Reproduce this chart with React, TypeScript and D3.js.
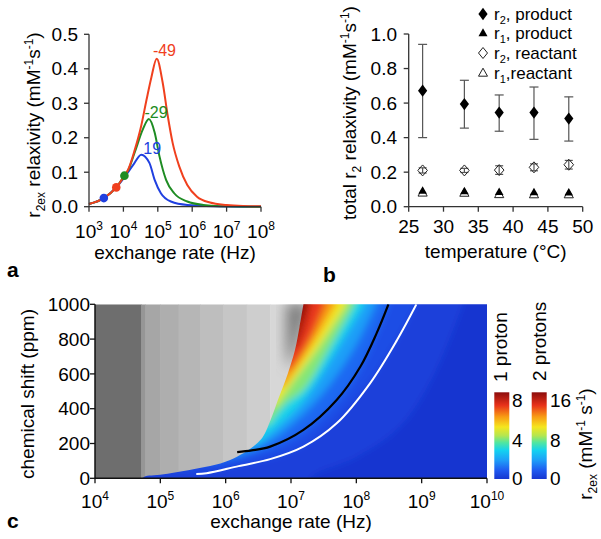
import React from "react";
import * as d3 from "d3";

// ---------------- Panel a: r2ex vs exchange rate ----------------
const redRate = [1000, 2700, 6200, 10700, 13800, 21400, 33000, 47000, 65000, 93000, 138000, 195000, 270000, 420000, 720000, 1380000, 3300000, 1e7, 3e7, 1e8];
const redR2ex = [0.008, 0.025, 0.056, 0.09, 0.108, 0.165, 0.235, 0.31, 0.375, 0.429, 0.361, 0.263, 0.185, 0.117, 0.063, 0.029, 0.012, 0.005, 0.002, 0.001];
const greenRate = [1000, 2700, 6200, 10700, 13800, 21400, 37000, 55000, 81000, 112000, 174000, 300000, 720000, 2100000, 1e7, 1e8];
const greenR2ex = [0.008, 0.025, 0.056, 0.09, 0.106, 0.158, 0.225, 0.254, 0.215, 0.146, 0.078, 0.039, 0.015, 0.005, 0.001, 0.0];
const blueRate = [1000, 2700, 6200, 11200, 19500, 33000, 57000, 81000, 123000, 240000, 720000, 1e7, 1e8];
const blueR2ex = [0.008, 0.025, 0.056, 0.088, 0.122, 0.151, 0.127, 0.078, 0.039, 0.015, 0.005, 0.0005, 0];
const dotRate = [2700, 6200, 10700];
const dotR2ex = [0.025, 0.056, 0.09];
const curveLabels = ["-49", "-29", "19"];
const curveLabelRate = [7.2e4, 4.1e4, 3.8e4];
const curveLabelR2ex = [0.437, 0.256, 0.153];
const ticksAx = [1e3, 1e4, 1e5, 1e6, 1e7, 1e8];
const ticksAy = [0, 0.1, 0.2, 0.3, 0.4, 0.5];

// ---------------- Panel b: total relaxivity vs temperature ----------------
const temps = [27, 33, 38, 43, 48];
const r2Prod = [0.672, 0.594, 0.545, 0.545, 0.51];
const r2ProdLo = [0.4, 0.455, 0.437, 0.39, 0.38];
const r2ProdHi = [0.94, 0.732, 0.647, 0.693, 0.636];
const r2React = [0.21, 0.21, 0.212, 0.228, 0.243];
const r2ReactLo = [0.195, 0.198, 0.187, 0.208, 0.218];
const r2ReactHi = [0.225, 0.222, 0.237, 0.248, 0.268];
const r1Prod = [0.092, 0.09, 0.085, 0.083, 0.082];
const r1React = [0.08, 0.079, 0.071, 0.07, 0.07];
const legendMain = ["r", "r", "r", "r"];
const legendSub = ["2", "1", "2", "1"];
const legendRest = [", product", ", product", ", reactant", ",reactant"];
const ticksBx = [25, 30, 35, 40, 45, 50];
const ticksBy = [0, 0.2, 0.4, 0.6, 0.8, 1.0];

// ---------------- Panel c: r2ex map ----------------
const ticksCx = [1e4, 1e5, 1e6, 1e7, 1e8, 1e9, 1e10];
const ticksCy = [0, 200, 400, 600, 800, 1000];
const grayEdges = [1e4, 5.1e4, 5.9e4, 1e5, 1.9e5, 4.1e5, 9.1e5, 2.1e6, 4.8e6, 2e7];
const grayLevels = [110, 150, 166, 174, 182, 190, 198, 206, 215];
const haloRate = [8.5e6, 1.65e7, 1.25e7, 9.5e6, 8.5e6];
const haloPpm = [1000, 1000, 770, 640, 760];
const boundaryRate = [5.25e4, 5.6e4, 6.3e4, 8.9e4, 2.8e5, 1.17e6, 3.4e6, 4.8e6, 6.3e6, 8.9e6, 1.15e7, 1.35e7, 1.55e7];
const boundaryPpm = [0, 8, 14, 19, 48, 105, 220, 330, 450, 600, 737, 870, 1000];
const blackRate = [1.5e6, 2.5e6, 4.8e6, 1.55e7, 5.0e7, 1.15e8, 2.04e8, 3.1e8];
const blackPpm = [150, 160, 182, 278, 450, 641, 833, 1000];
const whiteRate = [3.55e5, 5.1e5, 1.58e6, 4.8e6, 1.55e7, 5.0e7, 1.62e8, 4.2e8, 8.3e8];
const whitePpm = [25, 29, 70, 110, 182, 316, 546, 795, 1000];
const levelValues = [0.15, 0.35, 0.7, 1.3, 2.2, 3.2, 4.2, 5.3, 6.3, 7.2, 7.9];
const levelRates = [
  [2e7, 1e8, 4.7e8, 1.58e9, 4.3e9],
  [2.0e5, 1.58e6, 1.55e7, 1.62e8, 8.3e8],
  [7.9e5, 4.8e6, 1.55e7, 5.0e7, 1.15e8, 3.1e8],
  [1.6e6, 5.0e6, 2.5e7, 8.9e7, 2.0e8],
  [3.0e6, 6.3e6, 1.58e7, 5.0e7, 1.32e8],
  [4.6e6, 7.9e6, 1.58e7, 3.8e7, 9.5e7],
  [5.9e6, 1.0e7, 2.7e7, 7.1e7],
  [7.9e6, 1.26e7, 2.04e7, 3.16e7, 4.8e7],
  [1.0e7, 1.58e7, 2.5e7, 3.3e7],
  [1.2e7, 1.58e7, 2.0e7],
  [1.45e7, 1.66e7],
];
const levelPpm = [
  [0, 120, 297, 600, 1000],
  [38, 75, 190, 560, 1000],
  [85, 170, 265, 440, 630, 1000],
  [135, 220, 450, 737, 1000],
  [200, 300, 450, 737, 1000],
  [310, 420, 510, 740, 1000],
  [420, 540, 760, 1000],
  [530, 640, 760, 880, 1000],
  [630, 740, 890, 1000],
  [750, 860, 1000],
  [920, 1000],
];
const cmapPos = [0, 0.1, 0.22, 0.33, 0.42, 0.5, 0.6, 0.72, 0.85, 1];
const cmapCol = ["#1736d0", "#1f5af0", "#1ea0f8", "#14d2f0", "#50e6a0", "#b4e650", "#f5e61e", "#f89a14", "#e8321a", "#8c0c0c"];
const bar1Ticks = [0, 4, 8];
const bar2Ticks = [0, 8, 16];

const FONT = "'Liberation Sans', Arial, Helvetica, sans-serif";
const RED = "#f0401e";
const GREEN = "#1e8c23";
const BLUE = "#2040e0";
const AX = "#333";

export default function App() {
  const xA = d3.scaleLog().domain([1e3, 1e8]).range([89, 261]);
  const yA = d3.scaleLinear().domain([0, 0.5]).range([206.7, 34.3]);
  const xB = d3.scaleLinear().domain([25, 50]).range([408.7, 582.7]);
  const yB = d3.scaleLinear().domain([0, 1]).range([206.7, 34]);
  const xC = d3.scaleLog().domain([1e4, 1e10]).range([95, 487]);
  const yC = d3.scaleLinear().domain([0, 1000]).range([478.3, 304.3]);
  const yBar1 = d3.scaleLinear().domain([0, 8]).range([479, 392.3]);
  const yBar2 = d3.scaleLinear().domain([0, 16]).range([479, 392.3]);
  const cmap = d3.scaleLinear<string>().domain(cmapPos).range(cmapCol).interpolate(d3.interpolateRgb);

  const curveA = (rates: number[], vals: number[]) =>
    d3.line<number>().x((_, i) => xA(rates[i])).y((d) => yA(d)).curve(d3.curveMonotoneX)(vals) || "";

  const smooth = d3.line<[number, number]>().x((d) => d[0]).y((d) => d[1]).curve(d3.curveCatmullRom.alpha(0.5));
  const ptsC = (rates: number[], ppms: number[]) => rates.map((r, i) => [xC(r), yC(ppms[i])] as [number, number]);

  const x0 = xC(1e4) - 30;
  const levelPath = (rates: number[], ppms: number[]) => {
    const pts = ptsC(rates, ppms);
    if (ppms[0] <= 0) pts.unshift([xC(rates[0]), yC(-100)]);
    const last = pts[pts.length - 1];
    const first = pts[0];
    return smooth(pts) + `L${last[0]},${yC(1100)}L${x0},${yC(1100)}L${x0},${first[1]}Z`;
  };
  const bPts = ptsC(boundaryRate, boundaryPpm);
  const colorClip = smooth(bPts) + `L${xC(1e10)},${yC(1000)}L${xC(1e10)},${yC(0)}Z`;

  const supLabel = (base: string, exp: string, x: number, y: number, key: string | number) => (
    <text key={key} x={x} y={y} textAnchor="middle" fontSize={19}>
      {base}
      <tspan dy={-8} fontSize={12}>{exp}</tspan>
    </text>
  );

  const diamond = (cx: number, cy: number, hw: number, hh: number) =>
    `M${cx},${cy - hh}L${cx + hw},${cy}L${cx},${cy + hh}L${cx - hw},${cy}Z`;
  const triangle = (cx: number, cy: number, hw: number, h: number) =>
    `M${cx},${cy - h * 0.6}L${cx + hw},${cy + h * 0.4}L${cx - hw},${cy + h * 0.4}Z`;

  return (
    <svg width={601} height={539} style={{ position: "absolute", left: 0, top: 0, background: "#fff" }} fontFamily={FONT}>
      <defs>
        <filter id="blurC" x="-20%" y="-20%" width="140%" height="140%">
          <feGaussianBlur stdDeviation={3.5} />
        </filter>
        <filter id="blurH" x="-50%" y="-50%" width="200%" height="200%">
          <feGaussianBlur stdDeviation={7} />
        </filter>
        <clipPath id="plotC">
          <rect x={95} y={304.3} width={392} height={174} />
        </clipPath>
        <clipPath id="colorC">
          <path d={colorClip} />
        </clipPath>
        <linearGradient id="jet" x1="0" y1="1" x2="0" y2="0">
          {cmapPos.map((p, i) => (
            <stop key={i} offset={p} stopColor={cmapCol[i]} />
          ))}
        </linearGradient>
      </defs>

      {/* ================= Panel a ================= */}
      <g>
        <path d={curveA(blueRate, blueR2ex)} fill="none" stroke={BLUE} strokeWidth={2} />
        <path d={curveA(greenRate, greenR2ex)} fill="none" stroke={GREEN} strokeWidth={2} />
        <path d={curveA(redRate, redR2ex)} fill="none" stroke={RED} strokeWidth={2} />
        {dotRate.map((r, i) => (
          <circle key={i} cx={xA(r)} cy={yA(dotR2ex[i])} r={4.3} fill={[BLUE, RED, GREEN][i]} />
        ))}
        {curveLabels.map((l, i) => (
          <text key={l} x={xA(curveLabelRate[i])} y={yA(curveLabelR2ex[i])} fontSize={16} fill={[RED, GREEN, BLUE][i]}>
            {l}
          </text>
        ))}
        <line x1={xA(1e3)} x2={xA(1e8)} y1={yA(0)} y2={yA(0)} stroke={AX} strokeWidth={1.3} />
        <line x1={xA(1e3)} x2={xA(1e3)} y1={yA(0)} y2={yA(0.5)} stroke={AX} strokeWidth={1.3} />
        {ticksAx.map((t) => (
          <line key={t} x1={xA(t)} x2={xA(t)} y1={yA(0)} y2={yA(0) + 5} stroke={AX} strokeWidth={1.3} />
        ))}
        {ticksAy.map((t) => (
          <line key={t} x1={xA(1e3) - 5} x2={xA(1e3)} y1={yA(t)} y2={yA(t)} stroke={AX} strokeWidth={1.3} />
        ))}
        {ticksAx.map((t) => supLabel("10", String(Math.round(Math.log10(t))), xA(t), 238, "ax" + t))}
        {ticksAy.map((t) => (
          <text key={t} x={78} y={yA(t)} dy="0.35em" textAnchor="end" fontSize={19}>
            {d3.format(".1f")(t)}
          </text>
        ))}
        <text x={175} y={259} textAnchor="middle" fontSize={19}>exchange rate (Hz)</text>
        <text transform="translate(40,125) rotate(-90)" textAnchor="middle" fontSize={19}>
          r<tspan dy={5} fontSize={12}>2ex</tspan>
          <tspan dy={-5}> relaxivity (mM</tspan>
          <tspan dy={-7} fontSize={12}>-1</tspan>
          <tspan dy={7}>s</tspan>
          <tspan dy={-7} fontSize={12}>-1</tspan>
          <tspan dy={7}>)</tspan>
        </text>
        <text x={7} y={277} fontSize={21} fontWeight="bold">a</text>
      </g>

      {/* ================= Panel b ================= */}
      <g>
        {temps.map((t, i) => (
          <g key={"e" + t} stroke="#555" strokeWidth={1.2}>
            <line x1={xB(t)} x2={xB(t)} y1={yB(r2ProdLo[i])} y2={yB(r2ProdHi[i])} />
            <line x1={xB(t) - 4.5} x2={xB(t) + 4.5} y1={yB(r2ProdLo[i])} y2={yB(r2ProdLo[i])} />
            <line x1={xB(t) - 4.5} x2={xB(t) + 4.5} y1={yB(r2ProdHi[i])} y2={yB(r2ProdHi[i])} />
            <line x1={xB(t)} x2={xB(t)} y1={yB(r2ReactLo[i])} y2={yB(r2ReactHi[i])} />
            <line x1={xB(t) - 4} x2={xB(t) + 4} y1={yB(r2ReactLo[i])} y2={yB(r2ReactLo[i])} />
            <line x1={xB(t) - 4} x2={xB(t) + 4} y1={yB(r2ReactHi[i])} y2={yB(r2ReactHi[i])} />
          </g>
        ))}
        {temps.map((t, i) => (
          <g key={"m" + t}>
            <path d={diamond(xB(t), yB(r2Prod[i]), 4.6, 6.2)} fill="#000" />
            <path d={diamond(xB(t), yB(r2React[i]), 4.8, 5.5)} fill="none" stroke="#222" strokeWidth={1} />
            <path d={triangle(xB(t), yB(r1React[i]), 4.6, 8)} fill="#fff" stroke="#222" strokeWidth={1} />
            <path d={triangle(xB(t), yB(r1Prod[i]), 4.3, 7.5)} fill="#000" />
          </g>
        ))}
        <line x1={xB(25)} x2={xB(50)} y1={yB(0)} y2={yB(0)} stroke={AX} strokeWidth={1.3} />
        <line x1={xB(25)} x2={xB(25)} y1={yB(0)} y2={yB(1)} stroke={AX} strokeWidth={1.3} />
        {ticksBx.map((t) => (
          <line key={t} x1={xB(t)} x2={xB(t)} y1={yB(0)} y2={yB(0) + 5} stroke={AX} strokeWidth={1.3} />
        ))}
        {ticksBy.map((t) => (
          <line key={t} x1={xB(25) - 5} x2={xB(25)} y1={yB(t)} y2={yB(t)} stroke={AX} strokeWidth={1.3} />
        ))}
        {ticksBx.map((t) => (
          <text key={t} x={xB(t)} y={233} textAnchor="middle" fontSize={19}>{t}</text>
        ))}
        {ticksBy.map((t) => (
          <text key={t} x={397} y={yB(t)} dy="0.35em" textAnchor="end" fontSize={19}>
            {d3.format(".1f")(t)}
          </text>
        ))}
        <text x={xB(37.5)} y={258} textAnchor="middle" fontSize={19}>temperature (°C)</text>
        <text transform="translate(356,113) rotate(-90)" textAnchor="middle" fontSize={19}>
          total r<tspan dy={5} fontSize={12}>2</tspan>
          <tspan dy={-5}> relaxivity (mM</tspan>
          <tspan dy={-7} fontSize={12}>-1</tspan>
          <tspan dy={7}>s</tspan>
          <tspan dy={-7} fontSize={12}>-1</tspan>
          <tspan dy={7}>)</tspan>
        </text>
        {legendMain.map((m, i) => {
          const cy = [14, 33, 53, 73][i];
          const sym =
            i === 0 ? <path d={diamond(483, cy, 4.6, 6.2)} fill="#000" /> :
            i === 1 ? <path d={triangle(483, cy, 4.5, 8)} fill="#000" /> :
            i === 2 ? <path d={diamond(483, cy, 4.5, 5.5)} fill="none" stroke="#222" /> :
            <path d={triangle(483, cy, 4.5, 8)} fill="#fff" stroke="#222" />;
          return (
            <g key={i}>
              {sym}
              <text x={494} y={cy + 6} fontSize={17}>
                {m}
                <tspan dy={4} fontSize={11}>{legendSub[i]}</tspan>
                <tspan dy={-4}>{legendRest[i]}</tspan>
              </text>
            </g>
          );
        })}
        <text x={323} y={282} fontSize={21} fontWeight="bold">b</text>
      </g>

      {/* ================= Panel c ================= */}
      <g clipPath="url(#plotC)">
        {grayLevels.map((g, i) => (
          <rect key={i} x={xC(grayEdges[i])} y={yC(1000)} width={xC(grayEdges[i + 1]) - xC(grayEdges[i]) + 0.5} height={yC(0) - yC(1000)} fill={d3.rgb(g, g, g).toString()} />
        ))}
        <path d={smooth(ptsC(haloRate, haloPpm)) + "Z"} fill="#7a7a7a" filter="url(#blurH)" />
      </g>
      <g clipPath="url(#colorC)">
        <g filter="url(#blurC)">
          <rect x={80} y={290} width={430} height={200} fill={cmap(0)} />
          {levelValues.map((v, i) => {
            const next = i + 1 < levelValues.length ? levelValues[i + 1] : 8;
            return <path key={v} d={levelPath(levelRates[i], levelPpm[i])} fill={cmap((v + next) / 2 / 8)} />;
          })}
        </g>
      </g>
      <g clipPath="url(#plotC)">
        <path d={smooth(ptsC(whiteRate, whitePpm)) || ""} fill="none" stroke="#fff" strokeWidth={2} />
        <path d={smooth(ptsC(blackRate, blackPpm)) || ""} fill="none" stroke="#000" strokeWidth={2.2} />
      </g>
      <line x1={xC(1e4)} x2={xC(1e10)} y1={yC(0)} y2={yC(0)} stroke="#111" strokeWidth={1.5} />
      <line x1={xC(1e4)} x2={xC(1e4)} y1={yC(0)} y2={yC(1000)} stroke="#111" strokeWidth={1.5} />
      {ticksCx.map((t) => (
        <line key={t} x1={xC(t)} x2={xC(t)} y1={yC(0)} y2={yC(0) + 5} stroke="#111" strokeWidth={1.3} />
      ))}
      {ticksCy.map((t) => (
        <line key={t} x1={xC(1e4) - 5} x2={xC(1e4)} y1={yC(t)} y2={yC(t)} stroke="#111" strokeWidth={1.3} />
      ))}
      {ticksCx.map((t) => supLabel("10", String(Math.round(Math.log10(t))), xC(t), 508, "cx" + t))}
      {ticksCy.map((t) => (
        <text key={t} x={90} y={yC(t)} dy="0.35em" textAnchor="end" fontSize={19}>{t}</text>
      ))}
      <text x={291} y={528} textAnchor="middle" fontSize={19}>exchange rate (Hz)</text>
      <text transform="translate(34,394) rotate(-90)" textAnchor="middle" fontSize={19}>chemical shift (ppm)</text>
      <text x={7} y={528} fontSize={21} fontWeight="bold">c</text>

      {/* colorbars */}
      <rect x={494.3} y={yBar1(8)} width={15} height={yBar1(0) - yBar1(8)} fill="url(#jet)" />
      <rect x={531.7} y={yBar2(16)} width={15} height={yBar2(0) - yBar2(16)} fill="url(#jet)" />
      {bar1Ticks.map((t, i) => (
        <text key={t} x={512} y={[478.5, 440, 400][i]} dy="0.35em" fontSize={19}>{t}</text>
      ))}
      {bar2Ticks.map((t, i) => (
        <text key={t} x={550} y={[478.5, 440, 400][i]} dy="0.35em" fontSize={19}>{t}</text>
      ))}
      <text transform="translate(507,382) rotate(-90)" fontSize={19}>1 proton</text>
      <text transform="translate(546,381) rotate(-90)" fontSize={19}>2 protons</text>
      <text transform="translate(592,444) rotate(-90)" textAnchor="middle" fontSize={19}>
        r<tspan dy={5} fontSize={12}>2ex</tspan>
        <tspan dy={-5}> (mM</tspan>
        <tspan dy={-7} fontSize={12}>-1</tspan>
        <tspan dy={7}> s</tspan>
        <tspan dy={-7} fontSize={12}>-1</tspan>
        <tspan dy={7}>)</tspan>
      </text>
    </svg>
  );
}
